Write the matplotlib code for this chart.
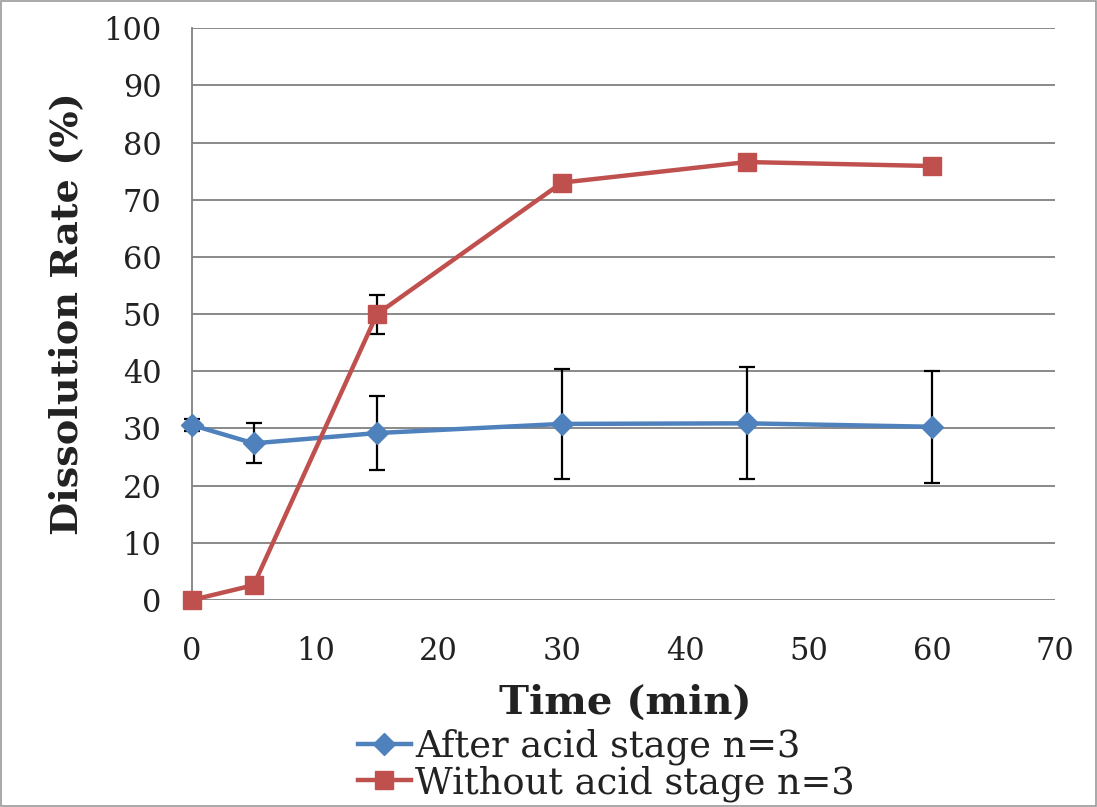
import numpy as np
import matplotlib
matplotlib.use("Agg")
import matplotlib.pyplot as plt
from matplotlib.patches import Rectangle
from matplotlib.lines import Line2D

# values
time_min = [0, 5, 15, 30, 45, 60]
after_acid = [30.6, 27.4, 29.2, 30.8, 30.9, 30.3]
after_acid_err = [1.0, 3.5, 6.5, 9.6, 9.8, 9.8]
without_acid = [0.0, 2.6, 50.0, 73.0, 76.6, 75.9]
without_acid_err = [0, 0, 3.4, 0, 0, 0]

labels = ["After acid stage n=3", "Without acid stage n=3"]
blue = "#4F81BD"
red = "#C0504D"

plt.rcParams["font.family"] = ["DejaVu Serif"]

fig = plt.figure(figsize=(10.97, 8.07), dpi=100)
ax = fig.add_axes([0.175, 0.2565, 0.787, 0.7085])

ax.errorbar(time_min, after_acid, yerr=after_acid_err, color=blue, lw=3.2,
            marker="D", ms=11, ecolor="black", elinewidth=1.6, capsize=6,
            capthick=1.6, zorder=3)
ax.errorbar(time_min, without_acid, yerr=without_acid_err, color=red, lw=3.2,
            marker="s", ms=13, ecolor="black", elinewidth=1.6, capsize=6,
            capthick=1.6, zorder=4)

ax.set_xlim(0, 70)
ax.set_ylim(0, 100)
ax.set_xticks(np.arange(0, 71, 10))
ax.set_yticks(np.arange(0, 101, 10))
ax.yaxis.grid(True, color="#808080", lw=1.3)
ax.set_axisbelow(True)
for s in ["top", "right", "bottom"]:
    ax.spines[s].set_visible(False)
ax.spines["left"].set_color("#808080")
ax.spines["left"].set_linewidth(1.3)
ax.tick_params(length=0, labelsize=22, colors="#222222")
ax.tick_params(axis="y", pad=22)
ax.tick_params(axis="x", pad=26)
for l in ax.lines:
    l.set_clip_on(False)

ax.set_ylabel("Dissolution Rate (%)", fontsize=27.5, fontweight="bold", color="#222222")
ax.yaxis.set_label_coords(-0.124, 0.5)
ax.set_xlabel("Time (min)", fontsize=29, fontweight="bold", color="#222222")
ax.xaxis.set_label_coords(0.502, -0.147)

handles = [
    Line2D([], [], color=blue, lw=3.2, marker="D", ms=11),
    Line2D([], [], color=red, lw=3.2, marker="s", ms=13),
]
fig.legend(handles, labels, loc="upper left", bbox_to_anchor=(0.326, 0.097),
           fontsize=26.5, frameon=False, handlelength=1.45, handletextpad=0.12,
           labelspacing=0.0, borderpad=0, borderaxespad=0, labelcolor="#222222")

fig.patches.append(Rectangle((0.001, 0.001), 0.998, 0.998, transform=fig.transFigure,
                             fill=False, ec="#9a9a9a", lw=1.2))

fig.savefig("out.png", dpi=100)
